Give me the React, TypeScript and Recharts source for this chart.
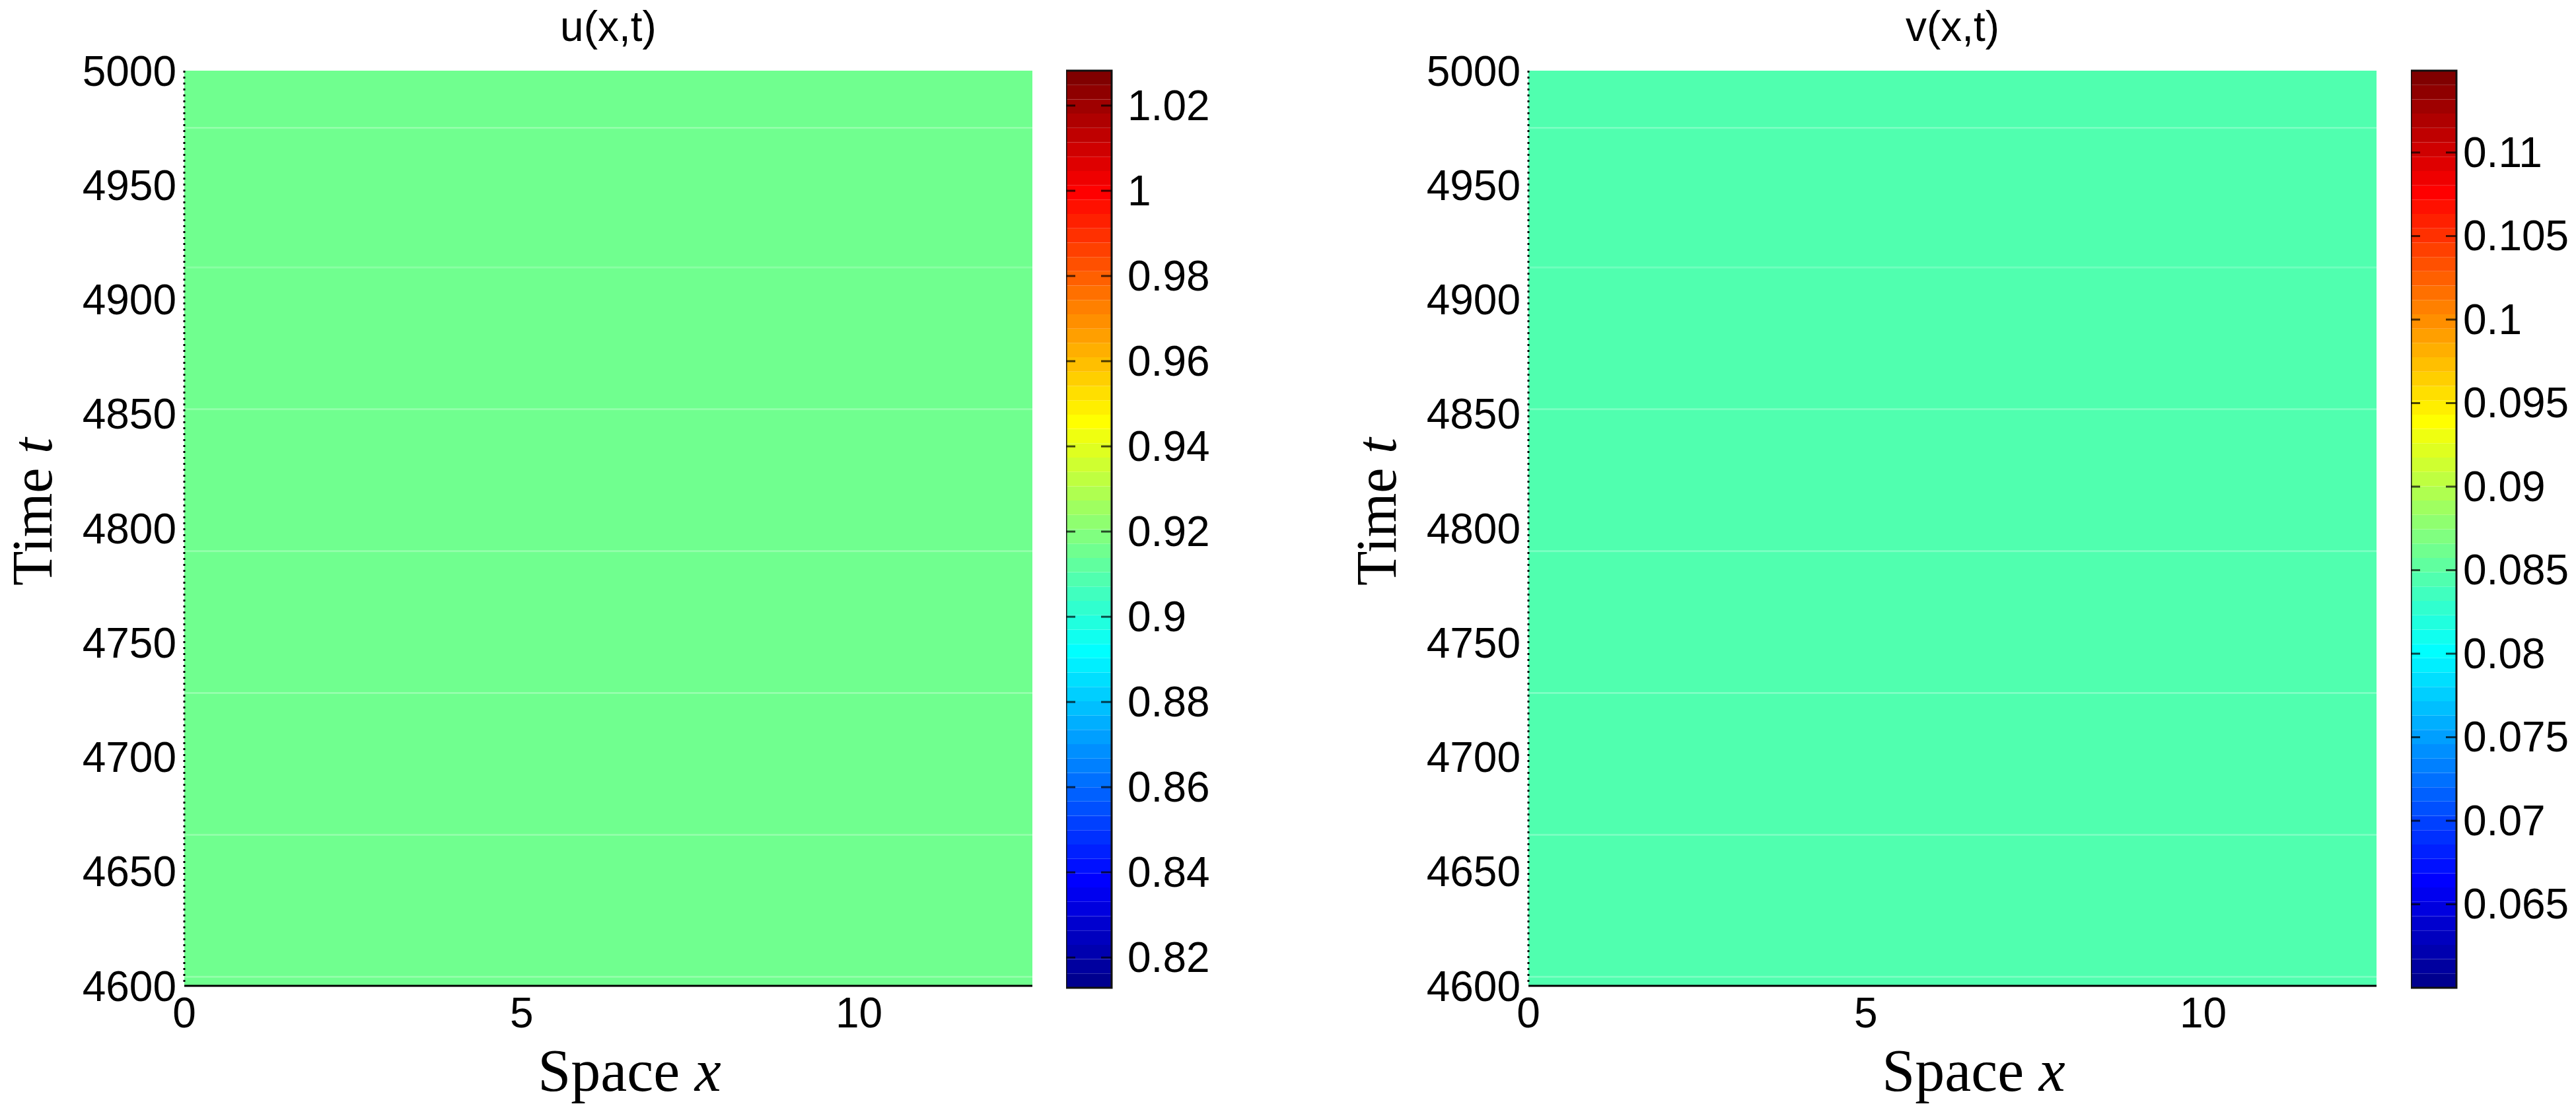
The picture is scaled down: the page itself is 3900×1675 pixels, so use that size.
import React from 'react';
import {
  ComposedChart,
  XAxis,
  YAxis,
  ReferenceArea,
  ReferenceLine,
  Label,
} from 'recharts';

// space axis (x) and time axis (t)
const spaceLength = 12.57;
const spaceTicks = [0, 5, 10];
const timeTicks = [4600, 4650, 4700, 4750, 4800, 4850, 4900, 4950, 5000];

// stored snapshot rows (row boundaries in t) and the field value in each row
const rowEdges = [4600, 4604, 4666, 4728, 4790, 4852, 4914, 4975, 5000];
const uRows = [0.9155, 0.9155, 0.9155, 0.9155, 0.9155, 0.9155, 0.9155, 0.9155];
const vRows = [0.0845, 0.0845, 0.0845, 0.0845, 0.0845, 0.0845, 0.0845, 0.0845];

// colour limits and colourbar ticks
const uRange = [0.8129, 1.0282];
const vRange = [0.06, 0.1149];
const uBarTicks = [0.82, 0.84, 0.86, 0.88, 0.9, 0.92, 0.94, 0.96, 0.98, 1, 1.02];
const uBarLabels = ['0.82', '0.84', '0.86', '0.88', '0.9', '0.92', '0.94', '0.96', '0.98', '1', '1.02'];
const vBarTicks = [0.065, 0.07, 0.075, 0.08, 0.085, 0.09, 0.095, 0.1, 0.105, 0.11];
const vBarLabels = ['0.065', '0.07', '0.075', '0.08', '0.085', '0.09', '0.095', '0.1', '0.105', '0.11'];

const W = 3900;
const H = 1675;
const PLOT_TOP = 107;
const PLOT_BOTTOM = 1493;
const PLOT_LEFT = 279;
const PLOT_RIGHT = 1563;
const CB_W = 69;
const CB_BOTTOM = 1496;
const SANS = '"Liberation Sans", Arial, sans-serif';
const SERIF = '"Liberation Serif", "Times New Roman", serif';

// MATLAB jet(64)
function jet(k: number) {
  const u = (j: number) => (j < 1 || j > 47 ? 0 : j <= 16 ? j / 16 : j <= 31 ? 1 : (48 - j) / 16);
  const c = (x: number) => Math.round(x * 255);
  return `rgb(${c(u(k - 24))},${c(u(k - 8))},${c(u(k + 8))})`;
}

function colorOf(v: number, range: number[]) {
  const k = Math.floor(((v - range[0]) / (range[1] - range[0])) * 64) + 1;
  return jet(Math.max(1, Math.min(64, k)));
}

function TimeLabel() {
  return (
    <text
      x={78}
      y={775}
      transform="rotate(-90 78 775)"
      textAnchor="middle"
      fontFamily={SERIF}
      fontSize={86}
      fill="#000"
    >
      Time <tspan fontStyle="italic">t</tspan>
    </text>
  );
}

function SpaceLabel() {
  return (
    <text x={953} y={1652} textAnchor="middle" fontFamily={SERIF} fontSize={90} fill="#000">
      Space <tspan fontStyle="italic">x</tspan>
    </text>
  );
}

function Heatmap({ rows, range, title }: { rows: number[]; range: number[]; title: string }) {
  const cells = rows.map((value, i) => ({ t0: rowEdges[i], t1: rowEdges[i + 1], value }));
  return (
    <div style={{ position: 'relative', width: 1600, height: H }}>
      <ComposedChart
        width={1600}
        height={H}
        data={cells}
        margin={{ top: PLOT_TOP, right: 1600 - PLOT_RIGHT, bottom: H - PLOT_BOTTOM - 100, left: 0 }}
      >
        <XAxis
          type="number"
          dataKey="value"
          domain={[0, spaceLength]}
          ticks={spaceTicks}
          allowDataOverflow
          height={100}
          tickLine={false}
          tickSize={0}
          tickMargin={18}
          axisLine={{ stroke: '#000', strokeWidth: 3 }}
          tick={{ fill: '#000', fontSize: 64, fontFamily: SANS }}
        >
          <Label content={<SpaceLabel />} />
        </XAxis>
        <YAxis
          type="number"
          domain={[4600, 5000]}
          ticks={timeTicks}
          allowDataOverflow
          width={PLOT_LEFT}
          tickLine={false}
          tickSize={0}
          tickMargin={12}
          axisLine={{ stroke: '#000', strokeWidth: 3, strokeDasharray: '3 6' }}
          tick={{ fill: '#000', fontSize: 64, fontFamily: SANS }}
        >
          <Label content={<TimeLabel />} />
        </YAxis>
        {cells.map((c, i) => (
          <ReferenceArea
            key={`row-${i}`}
            x1={0}
            x2={spaceLength}
            y1={c.t0}
            y2={c.t1}
            fill={colorOf(c.value, range)}
            fillOpacity={1}
            stroke="none"
          />
        ))}
        {rowEdges.slice(1, -1).map((t) => (
          <ReferenceLine key={`edge-${t}`} y={t} stroke="#ffffff" strokeOpacity={0.18} strokeWidth={3} />
        ))}
      </ComposedChart>
      <svg width={1600} height={100} style={{ position: 'absolute', left: 0, top: 0 }}>
        <text
          x={(PLOT_LEFT + PLOT_RIGHT) / 2}
          y={62}
          textAnchor="middle"
          fontFamily={SANS}
          fontSize={64}
          fill="#000"
        >
          {title}
        </text>
      </svg>
    </div>
  );
}

function Colorbar({
  range,
  ticks,
  labels,
  labelGap,
}: {
  range: number[];
  ticks: number[];
  labels: string[];
  labelGap: number;
}) {
  const step = (range[1] - range[0]) / 64;
  const bands = Array.from({ length: 64 }, (_, i) => ({
    k: i + 1,
    lo: range[0] + i * step,
    hi: range[0] + (i + 1) * step,
  }));
  const CbTick = (props: any) => {
    const { y, index } = props;
    return (
      <g>
        <line x1={0} x2={14} y1={y} y2={y} stroke="#000" strokeOpacity={0.7} strokeWidth={3} />
        <line x1={CB_W - 16} x2={CB_W} y1={y} y2={y} stroke="#000" strokeOpacity={0.7} strokeWidth={3} />
        <text
          x={CB_W + labelGap}
          y={y}
          dominantBaseline="central"
          fontFamily={SANS}
          fontSize={64}
          fill="#000"
        >
          {labels[index]}
        </text>
      </g>
    );
  };
  return (
    <ComposedChart
      width={400}
      height={H}
      data={bands}
      margin={{ top: PLOT_TOP, right: 0, bottom: H - CB_BOTTOM, left: 0 }}
    >
      <XAxis type="number" dataKey="k" domain={[0, 1]} allowDataOverflow hide />
      <YAxis
        type="number"
        orientation="right"
        domain={range}
        ticks={ticks}
        allowDataOverflow
        width={400 - CB_W}
        axisLine={false}
        tickLine={false}
        tick={<CbTick />}
        interval={0}
      />
      {bands.map((b) => (
        <ReferenceArea
          key={`band-${b.k}`}
          x1={0}
          x2={1}
          y1={b.lo}
          y2={b.hi}
          fill={jet(b.k)}
          fillOpacity={1}
          stroke="none"
        />
      ))}
      <ReferenceArea
        x1={0}
        x2={1}
        y1={range[0]}
        y2={range[1]}
        fill="none"
        stroke="#111"
        strokeWidth={3}
      />
    </ComposedChart>
  );
}

export default function App() {
  return (
    <div style={{ position: 'absolute', left: 0, top: 0, width: W, height: H, background: '#fff' }}>
      <div style={{ position: 'absolute', left: 0, top: 0 }}>
        <Heatmap rows={uRows} range={uRange} title="u(x,t)" />
      </div>
      <div style={{ position: 'absolute', left: 1614, top: 0 }}>
        <Colorbar range={uRange} ticks={uBarTicks} labels={uBarLabels} labelGap={24} />
      </div>
      <div style={{ position: 'absolute', left: 2035, top: 0 }}>
        <Heatmap rows={vRows} range={vRange} title="v(x,t)" />
      </div>
      <div style={{ position: 'absolute', left: 3650, top: 0 }}>
        <Colorbar range={vRange} ticks={vBarTicks} labels={vBarLabels} labelGap={10} />
      </div>
    </div>
  );
}
